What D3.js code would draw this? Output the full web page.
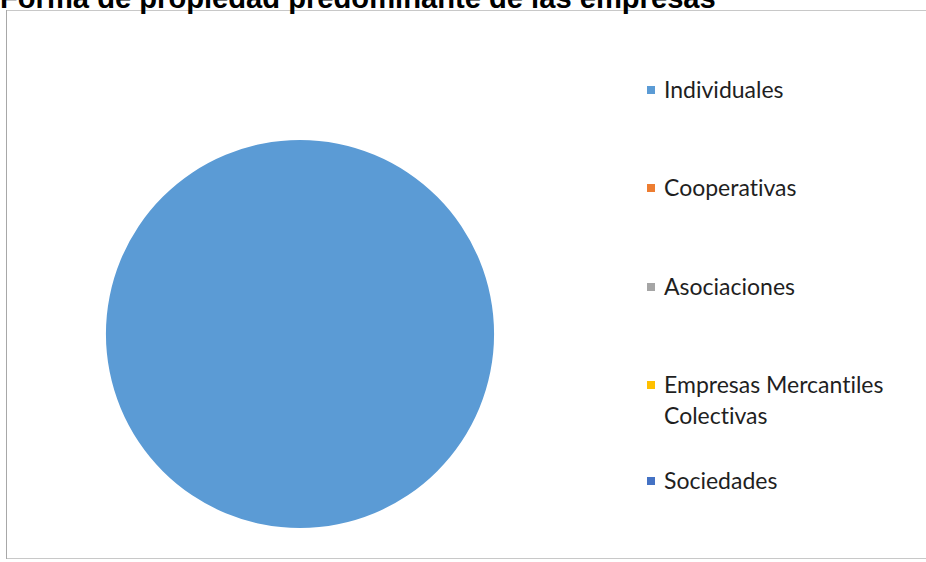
<!DOCTYPE html>
<html><head><meta charset="utf-8">
<script src="https://cdn.jsdelivr.net/npm/d3@7"></script>
<style>body{margin:0;background:#fff;}svg{display:block;}</style>
</head><body>
<svg id="c" width="926" height="562"></svg>
<script>
const title = "Forma de propiedad predominante de las empresas";
const categories = ["Individuales", "Cooperativas", "Asociaciones", "Empresas Mercantiles Colectivas", "Sociedades"];
const legendLines = [["Individuales"], ["Cooperativas"], ["Asociaciones"], ["Empresas Mercantiles", "Colectivas"], ["Sociedades"]];
const values = [100, 0, 0, 0, 0];
const colors = ["#5B9BD5", "#ED7D31", "#A5A5A5", "#FFC000", "#4472C4"];

const svg = d3.select("#c");
svg.append("rect").attr("x", 6.5).attr("y", 10.5).attr("width", 940).attr("height", 548)
  .attr("fill", "#fff").attr("stroke", "#c8c8c8");
svg.append("line").attr("x1", 6.5).attr("x2", 6.5).attr("y1", 10).attr("y2", 559).attr("stroke", "#a8a8a8");

const t = svg.append("text").attr("x", 0).attr("y", 8)
  .attr("font-family", "Liberation Sans, Arial, sans-serif").attr("font-weight", "bold")
  .attr("font-size", 29).attr("fill", "#000").text(title);
const w = t.node().getComputedTextLength();
t.attr("font-size", 29 * 716 / w);

const color = d3.scaleOrdinal().domain(categories).range(colors);
const pie = d3.pie().sort(null).value(d => d.v);
const data = categories.map((c, i) => ({c, v: values[i]}));
const arc = d3.arc().innerRadius(0).outerRadius(194);
svg.append("g").attr("transform", "translate(300,334)")
  .selectAll("path").data(pie(data).filter(d => d.data.v > 0)).join("path")
  .attr("d", arc).attr("fill", d => color(d.data.c));

const legendY = d3.scaleOrdinal().domain(categories).range([98, 196, 295, 393, 489]);
const lg = svg.append("g").selectAll("g").data(categories).join("g");
lg.append("rect").attr("x", 647).attr("y", d => legendY(d) - 12).attr("width", 8).attr("height", 8)
  .attr("fill", d => color(d));
lg.append("text").attr("font-family", "Lato, sans-serif").attr("font-size", 23).attr("fill", "#1f1f1f")
  .style("font-variant-ligatures", "none").style("font-feature-settings", "'liga' 0")
  .each(function(d, i) {
    d3.select(this).selectAll("tspan").data(legendLines[i]).join("tspan")
      .attr("x", 664).attr("y", (s, j) => legendY(d) + j * 31).text(s => s);
  });
</script>
</body></html>
